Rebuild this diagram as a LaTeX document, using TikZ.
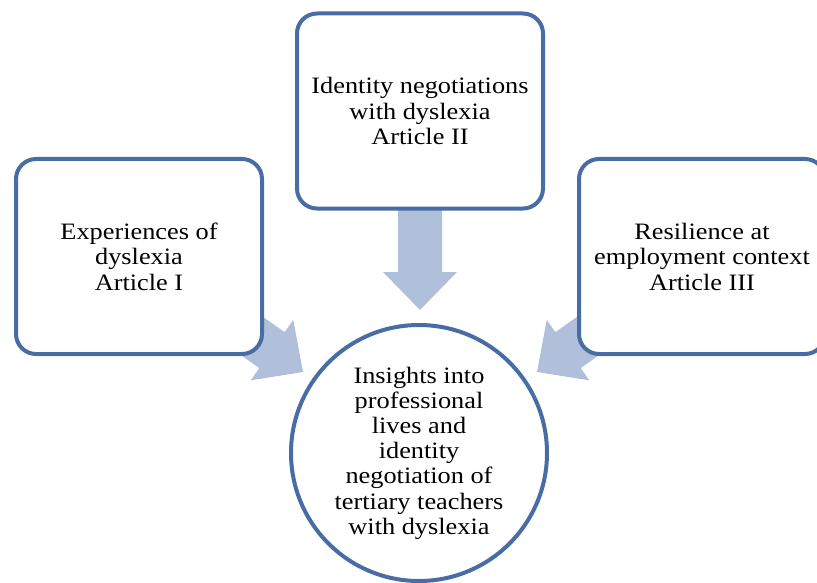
\documentclass[tikz,border=0pt]{standalone}
\usepackage{fontspec}
\setmainfont[FakeStretch=1.12]{Liberation Serif}
\definecolor{boxblue}{RGB}{72,108,164}
\definecolor{arrowfill}{RGB}{176,191,218}
\tikzset{
  rbox/.style={draw=boxblue, line width=4pt, rounded corners=20pt, fill=white,
    minimum width=246pt, minimum height=195pt, align=center, inner sep=0pt,
    font=\fontsize{23.5}{25.5}\selectfont},
  rcircle/.style={circle, draw=boxblue, line width=4pt, fill=white,
    minimum size=256pt, align=center, inner sep=0pt,
    font=\fontsize{23.5}{25.2}\selectfont},
  pics/barrow/.style={code={
    \fill[arrowfill] (0,0) -- (-38,37) -- (-38,22) -- (-#1,22) -- (-#1,-22)
      -- (-38,-22) -- (-38,-37) -- cycle;}}
}
\begin{document}
\begin{tikzpicture}[x=1pt,y=-1pt]
\useasboundingbox (0,0) rectangle (817,583);
\clip (0,0) rectangle (817,583);
% block arrows
\pic[rotate=-35.2] at (303,372) {barrow=90};
\pic[rotate=-144.8] at (537,372) {barrow=90};
\pic[rotate=-90] at (420,310) {barrow=100};
% boxes
\node[rbox] (exp) at (139,256.5) {Experiences of\\dyslexia\\Article I};
\node[rbox] (ident) at (420,111) {Identity negotiations\\with dyslexia\\Article II};
\node[rbox] (resil) at (702,256.5) {Resilience at\\employment context\\Article III};
\node[rcircle] (ins) at (419,453) {Insights into\\professional\\lives and\\identity\\negotiation of\\tertiary teachers\\with dyslexia};
\end{tikzpicture}
\end{document}
